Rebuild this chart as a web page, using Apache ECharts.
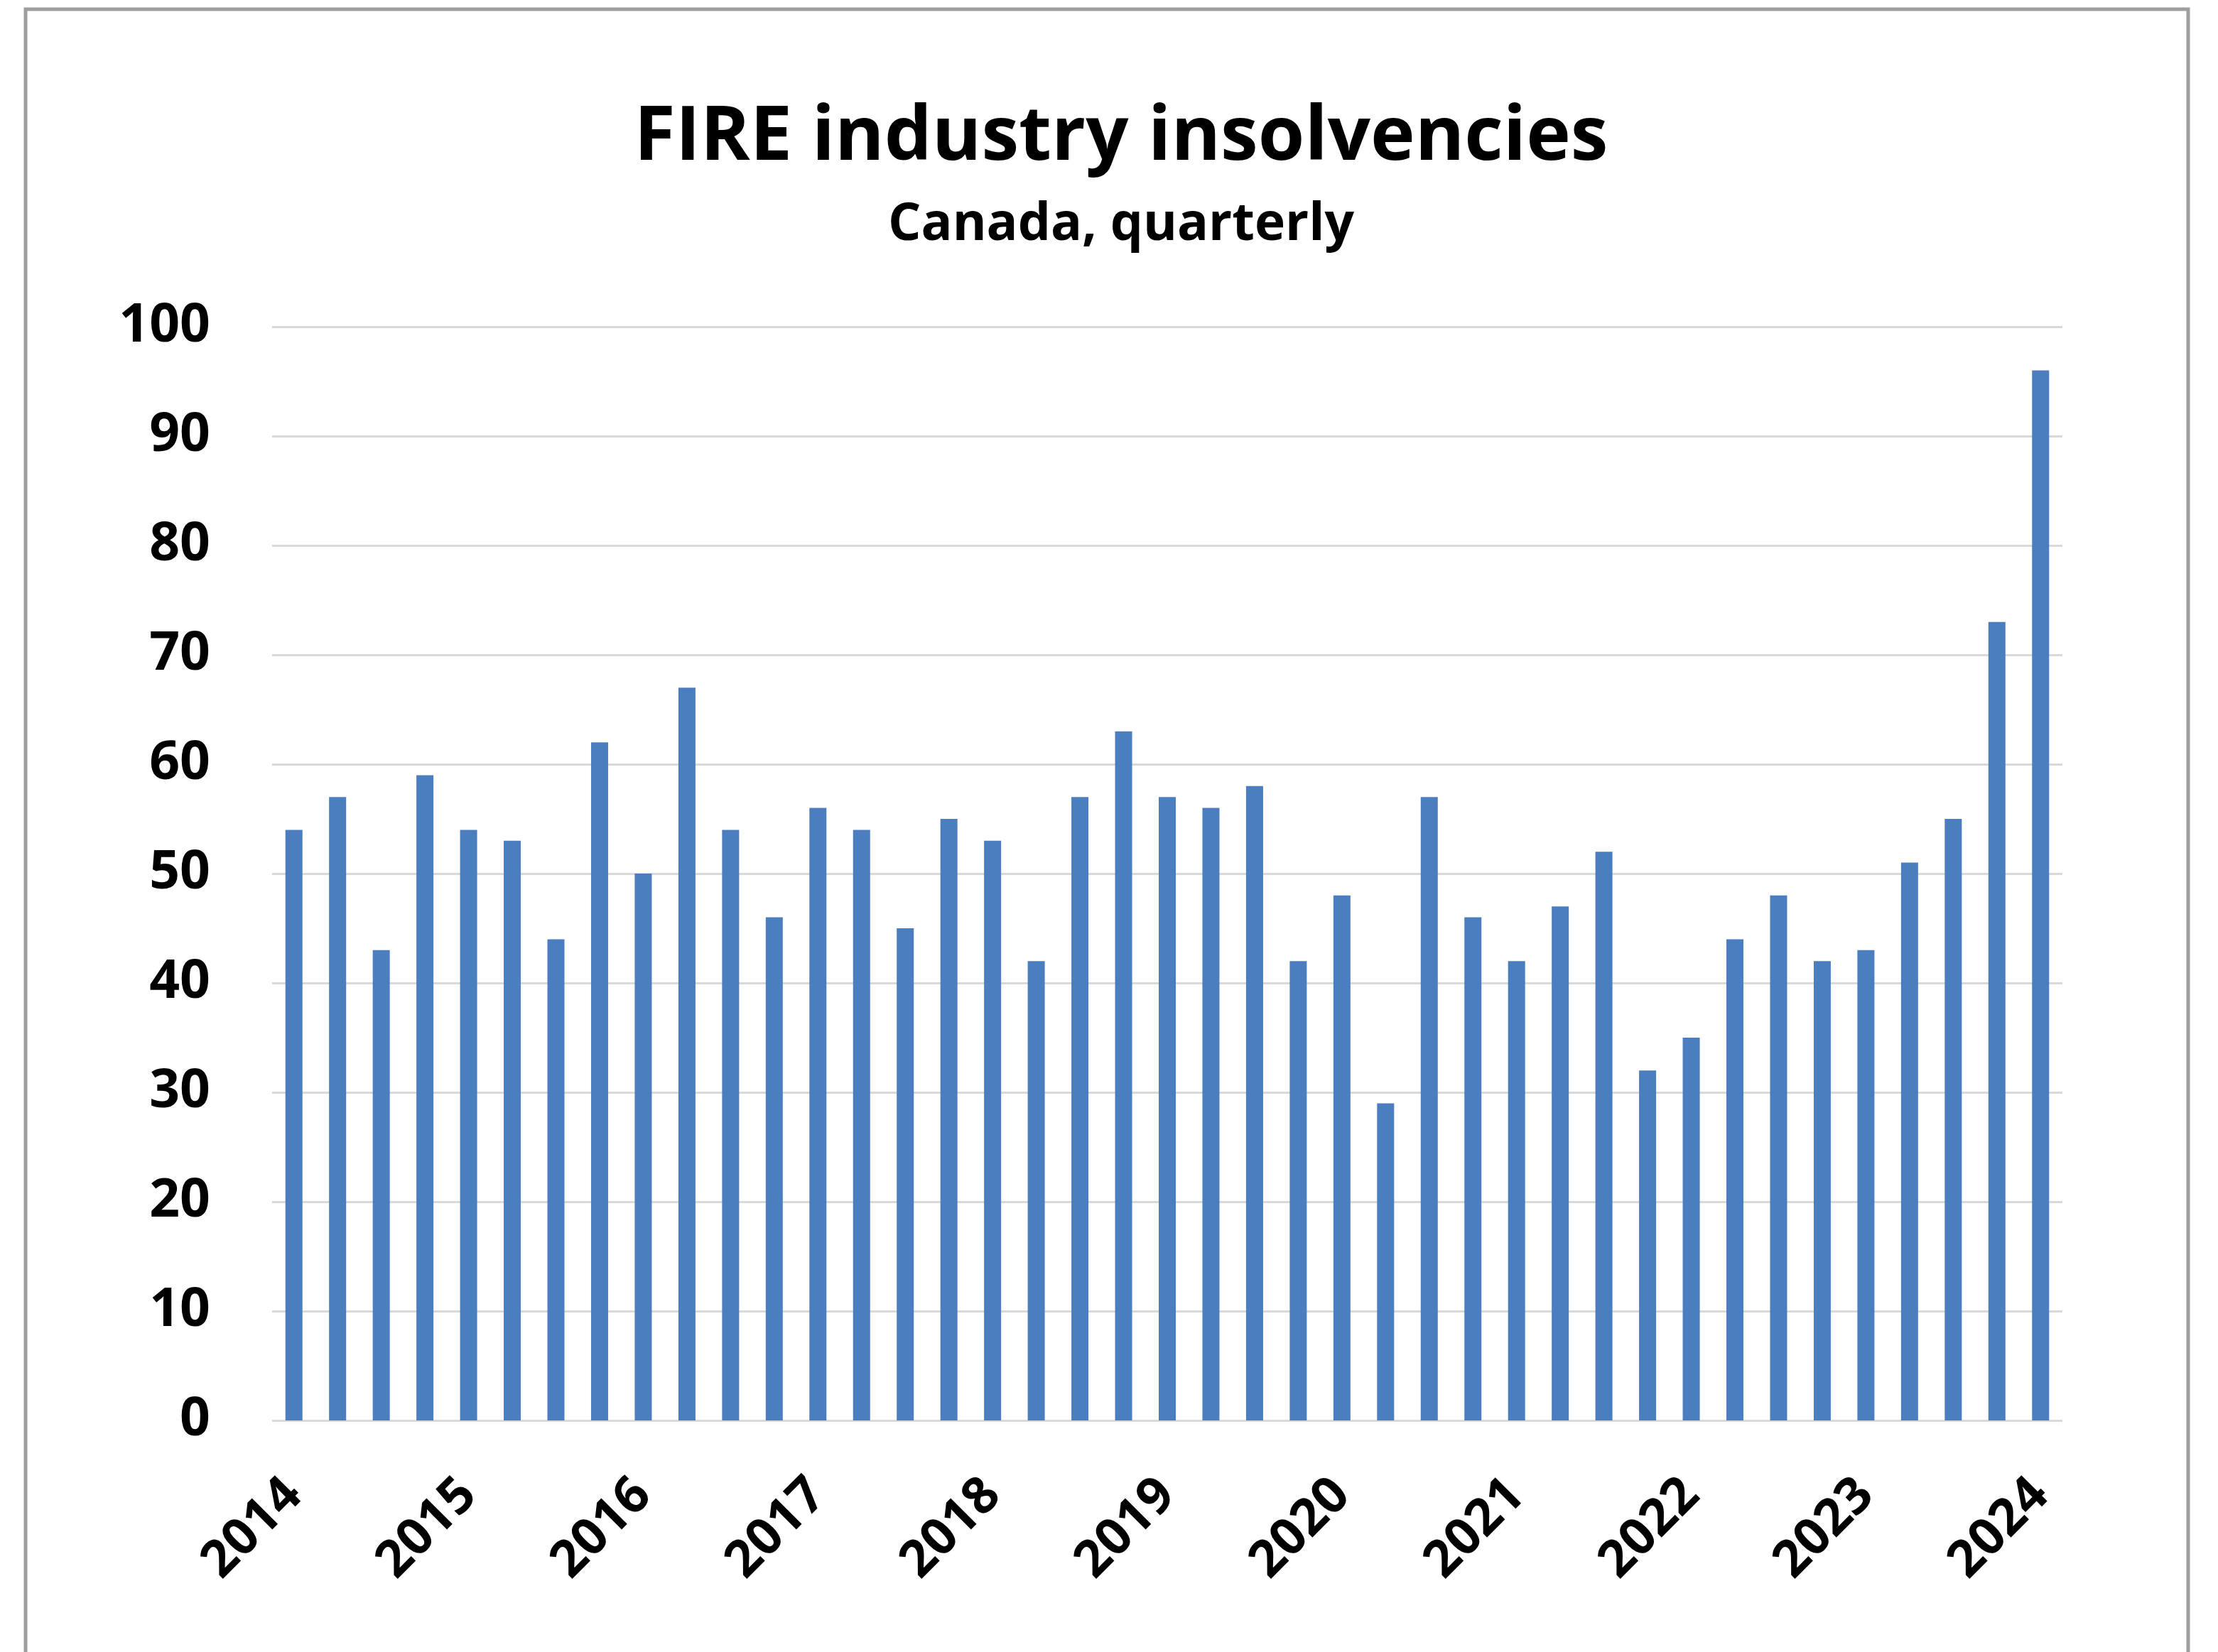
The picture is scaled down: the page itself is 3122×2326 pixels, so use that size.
<!DOCTYPE html>
<html>
<head>
<meta charset="utf-8">
<script src="https://cdn.jsdelivr.net/npm/echarts@6/dist/echarts.min.js"></script>
<style>
  html, body { margin: 0; padding: 0; background: #ffffff; }
  #chart { width: 3122px; height: 2326px; }
</style>
</head>
<body>
<div id="chart"></div>
<script>
// Quarterly insolvencies in the finance, insurance and real estate (FIRE) industry, Canada
const quarters = [
  '2014 Q1','2014 Q2','2014 Q3','2014 Q4',
  '2015 Q1','2015 Q2','2015 Q3','2015 Q4',
  '2016 Q1','2016 Q2','2016 Q3','2016 Q4',
  '2017 Q1','2017 Q2','2017 Q3','2017 Q4',
  '2018 Q1','2018 Q2','2018 Q3','2018 Q4',
  '2019 Q1','2019 Q2','2019 Q3','2019 Q4',
  '2020 Q1','2020 Q2','2020 Q3','2020 Q4',
  '2021 Q1','2021 Q2','2021 Q3','2021 Q4',
  '2022 Q1','2022 Q2','2022 Q3','2022 Q4',
  '2023 Q1','2023 Q2','2023 Q3','2023 Q4',
  '2024 Q1'
];
const insolvencies = [
  54, 57, 43, 59,
  54, 53, 44, 62,
  50, 67, 54, 46,
  56, 54, 45, 55,
  53, 42, 57, 63,
  57, 56, 58, 42,
  48, 29, 57, 46,
  42, 47, 52, 32,
  35, 44, 48, 42,
  43, 51, 55, 73,
  96
];
const yTicks = { min: 0, max: 100, step: 10 };
const titleText = 'FIRE industry insolvencies';
const subtitleText = 'Canada, quarterly';

const FONT = '"Open Sans", "Liberation Sans", sans-serif';
const chart = echarts.init(document.getElementById('chart'), null, { renderer: 'canvas' });

chart.setOption({
  backgroundColor: '#ffffff',
  animation: false,
  title: [
    {
      text: titleText,
      left: 1573, top: 137,
      textAlign: 'center',
      textStyle: { fontFamily: FONT, fontWeight: 'bold', fontSize: 106, color: '#000000' }
    },
    {
      text: subtitleText,
      left: 1573, top: 276,
      textAlign: 'center',
      textStyle: { fontFamily: FONT, fontWeight: 'bold', fontSize: 73, color: '#000000' }
    }
  ],
  graphic: [
    {
      type: 'rect',
      silent: true,
      shape: { x: 36, y: 13, width: 3044, height: 2340 },
      style: { fill: 'none', stroke: '#9e9e9e', lineWidth: 5 }
    }
  ],
  grid: { left: 383, right: 219, top: 460, bottom: 326, containLabel: false },
  xAxis: {
    type: 'category',
    data: quarters,
    axisLine: { show: false },
    axisTick: { show: false },
    axisLabel: {
      interval: 3,
      rotate: 45,
      margin: 94,
      fontFamily: FONT,
      fontWeight: 'bold',
      fontSize: 72,
      color: '#000000',
      formatter: (v) => v.slice(0, 4)
    }
  },
  yAxis: {
    type: 'value',
    min: yTicks.min,
    max: yTicks.max,
    interval: yTicks.step,
    axisLine: { show: false },
    axisTick: { show: false },
    splitLine: { show: true, lineStyle: { color: '#d9d9d9', width: 3 } },
    axisLabel: {
      margin: 87,
      fontFamily: FONT,
      fontWeight: 'bold',
      fontSize: 75,
      color: '#000000'
    }
  },
  series: [
    {
      type: 'bar',
      data: insolvencies,
      barWidth: 24,
      itemStyle: { color: '#4a7ebf' }
    }
  ]
});
</script>
</body>
</html>
